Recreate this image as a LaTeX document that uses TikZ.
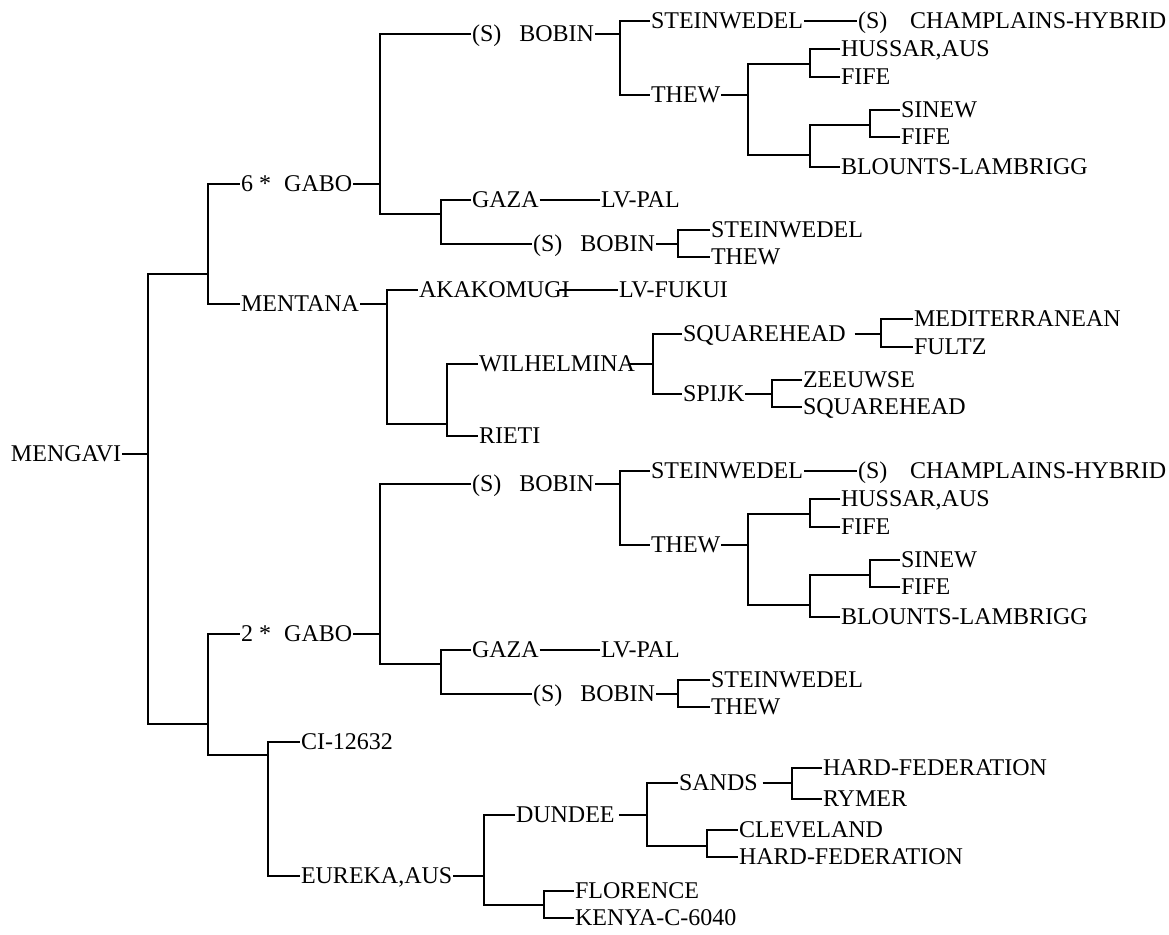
\documentclass[tikz,border=0pt]{standalone}
\usepackage{fontspec}
\setmainfont{Liberation Serif}

\tikzset{
  lbl/.style={anchor=west, inner sep=0pt, text height=11.9pt, text depth=0pt},
  gap/.style={shorten <=#1}
}

\begin{document}
\begin{tikzpicture}[x=0.75pt, y=-0.75pt, line width=1.5pt,
  font=\fontsize{18}{20}\selectfont, every node/.style=lbl]
\useasboundingbox (0,0) rectangle (1169,934);

% root
\node (mengavi) at (10,454) {MENGAVI};
\coordinate (r0) at (148,454);
\coordinate (r1) at (208,274);
\coordinate (r2) at (208,724);

% 6 * GABO
\node (gaboA) at (240,184) {6 *\hspace{0.55em}GABO};
\coordinate (gA) at (380,184);
\node (bobinA) at (471,34) {(S)\hspace{0.75em}BOBIN};
\coordinate (bA) at (620,34);
\node (steinA) at (650,21) {STEINWEDEL};
\node (champA) at (857,21) {(S)\hspace{0.95em}CHAMPLAINS-HYBRID};
\node (thewA) at (650,95) {THEW};
\coordinate (tA) at (748,95);
\coordinate (tA1) at (810,64);
\node (hussarA) at (840,49) {HUSSAR,AUS};
\node (fifeA) at (840,77) {FIFE};
\coordinate (tA2) at (810,155);
\coordinate (tA3) at (870,125);
\node (sinewA) at (900,110) {SINEW};
\node (fifeA2) at (900,137) {FIFE};
\node (blountsA) at (840,167) {BLOUNTS-LAMBRIGG};
\coordinate (gA2) at (441,214);
\node (gazaA) at (471,200) {GAZA};
\node (lvpalA) at (600,200) {LV-PAL};
\node (bobinA2) at (532,244) {(S)\hspace{0.75em}BOBIN};
\coordinate (bA2) at (678,244);
\node (steinA2) at (710,230) {STEINWEDEL};
\node (thewA2) at (710,257) {THEW};

% MENTANA
\node (mentana) at (240,304) {MENTANA};
\coordinate (mt) at (387,304);
\node (akako) at (418,290) {AKAKOMUGI};
\node (lvfukui) at (618,290) {LV-FUKUI};
\coordinate (mt2) at (447,424);
\node (wilhel) at (478,364) {WILHELMINA};
\coordinate (wh) at (653,364);
\node (sqhead) at (682,334) {SQUAREHEAD};
\coordinate (sq) at (881,334);
\node (medit) at (913,319) {MEDITERRANEAN};
\node (fultz) at (913,347) {FULTZ};
\node (spijk) at (682,394) {SPIJK};
\coordinate (sp) at (772,394);
\node (zeeuw) at (802,380) {ZEEUWSE};
\node (sqhead2) at (802,407) {SQUAREHEAD};
\node (rieti) at (478,436) {RIETI};

% 2 * GABO
\node (gaboB) at (240,634) {2 *\hspace{0.55em}GABO};
\coordinate (gB) at (380,634);
\node (bobinB) at (471,484) {(S)\hspace{0.75em}BOBIN};
\coordinate (bB) at (620,484);
\node (steinB) at (650,471) {STEINWEDEL};
\node (champB) at (857,471) {(S)\hspace{0.95em}CHAMPLAINS-HYBRID};
\node (thewB) at (650,545) {THEW};
\coordinate (tB) at (748,545);
\coordinate (tB1) at (810,514);
\node (hussarB) at (840,499) {HUSSAR,AUS};
\node (fifeB) at (840,527) {FIFE};
\coordinate (tB2) at (810,605);
\coordinate (tB3) at (870,575);
\node (sinewB) at (900,560) {SINEW};
\node (fifeB2) at (900,587) {FIFE};
\node (blountsB) at (840,617) {BLOUNTS-LAMBRIGG};
\coordinate (gB2) at (441,664);
\node (gazaB) at (471,650) {GAZA};
\node (lvpalB) at (600,650) {LV-PAL};
\node (bobinB2) at (532,694) {(S)\hspace{0.75em}BOBIN};
\coordinate (bB2) at (678,694);
\node (steinB2) at (710,680) {STEINWEDEL};
\node (thewB2) at (710,707) {THEW};

% EUREKA
\coordinate (rc) at (268,755);
\node (ci) at (300,742) {CI-12632};
\node (eureka) at (300,876) {EUREKA,AUS};
\coordinate (eu) at (484,876);
\node (dundee) at (515,815) {DUNDEE};
\coordinate (du) at (647,815);
\node (sands) at (678,783) {SANDS};
\coordinate (sa) at (792,783);
\node (hardfed) at (822,768) {HARD-FEDERATION};
\node (rymer) at (822,799) {RYMER};
\coordinate (du2) at (707,846);
\node (cleve) at (738,830) {CLEVELAND};
\node (hardfed2) at (738,857) {HARD-FEDERATION};
\coordinate (eu2) at (544,905);
\node (flor) at (574,891) {FLORENCE};
\node (kenya) at (574,918) {KENYA-C-6040};

% branches
\draw (mengavi.east) -- (r0);
\draw (r0) |- (r1);
\draw (r0) |- (r2);
\draw (r1) |- (gaboA.west);
\draw (r1) |- (mentana.west);
\draw (r2) |- (gaboB.west);
\draw (r2) |- (rc);

\draw (gaboA.east) -- (gA);
\draw (gA) |- (bobinA.west);
\draw (gA) |- (gA2);
\draw (bobinA.east) -- (bA);
\draw (bA) |- (steinA.west);
\draw (bA) |- (thewA.west);
\draw (steinA.east) -- (champA.west);
\draw (thewA.east) -- (tA);
\draw (tA) |- (tA1);
\draw (tA) |- (tA2);
\draw (tA1) |- (hussarA.west);
\draw (tA1) |- (fifeA.west);
\draw (tA2) |- (tA3);
\draw (tA2) |- (blountsA.west);
\draw (tA3) |- (sinewA.west);
\draw (tA3) |- (fifeA2.west);
\draw (gA2) |- (gazaA.west);
\draw (gA2) |- (bobinA2.west);
\draw (gazaA.east) -- (lvpalA.west);
\draw (bobinA2.east) -- (bA2);
\draw (bA2) |- (steinA2.west);
\draw (bA2) |- (thewA2.west);

\draw (mentana.east) -- (mt);
\draw (mt) |- (akako.west);
\draw (mt) |- (mt2);
\draw[gap=-9pt] (akako.east) -- (lvfukui.west);
\draw (mt2) |- (wilhel.west);
\draw (mt2) |- (rieti.west);
\draw[gap=-5pt] (wilhel.east) -- (wh);
\draw (wh) |- (sqhead.west);
\draw (wh) |- (spijk.west);
\draw[gap=6pt] (sqhead.east) -- (sq);
\draw (sq) |- (medit.west);
\draw (sq) |- (fultz.west);
\draw (spijk.east) -- (sp);
\draw (sp) |- (zeeuw.west);
\draw (sp) |- (sqhead2.west);

\draw (gaboB.east) -- (gB);
\draw (gB) |- (bobinB.west);
\draw (gB) |- (gB2);
\draw (bobinB.east) -- (bB);
\draw (bB) |- (steinB.west);
\draw (bB) |- (thewB.west);
\draw (steinB.east) -- (champB.west);
\draw (thewB.east) -- (tB);
\draw (tB) |- (tB1);
\draw (tB) |- (tB2);
\draw (tB1) |- (hussarB.west);
\draw (tB1) |- (fifeB.west);
\draw (tB2) |- (tB3);
\draw (tB2) |- (blountsB.west);
\draw (tB3) |- (sinewB.west);
\draw (tB3) |- (fifeB2.west);
\draw (gB2) |- (gazaB.west);
\draw (gB2) |- (bobinB2.west);
\draw (gazaB.east) -- (lvpalB.west);
\draw (bobinB2.east) -- (bB2);
\draw (bB2) |- (steinB2.west);
\draw (bB2) |- (thewB2.west);

\draw (rc) |- (ci.west);
\draw (rc) |- (eureka.west);
\draw (eureka.east) -- (eu);
\draw (eu) |- (dundee.west);
\draw (eu) |- (eu2);
\draw[gap=2.5pt] (dundee.east) -- (du);
\draw (du) |- (sands.west);
\draw (du) |- (du2);
\draw[gap=3pt] (sands.east) -- (sa);
\draw (sa) |- (hardfed.west);
\draw (sa) |- (rymer.west);
\draw (du2) |- (cleve.west);
\draw (du2) |- (hardfed2.west);
\draw (eu2) |- (flor.west);
\draw (eu2) |- (kenya.west);
\end{tikzpicture}
\end{document}
